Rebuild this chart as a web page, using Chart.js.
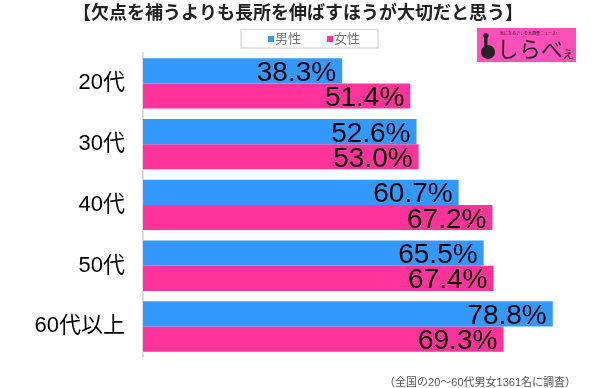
<!DOCTYPE html>
<html>
<head>
<meta charset="utf-8">
<script src="https://cdn.jsdelivr.net/npm/chart.js@4"></script>
<style>
  html, body { margin: 0; padding: 0; background: #fff; }
  #wrap { width: 600px; height: 388px; position: relative; }
</style>
</head>
<body>
<div id="wrap"><canvas id="myChart" width="600" height="388"></canvas></div>
<script>
// datos del gráfico
var categorias = ["20代", "30代", "40代", "50代", "60代以上"];
var hombres = [38.3, 52.6, 60.7, 65.5, 78.8];
var mujeres = [51.4, 53.0, 67.2, 67.4, 69.3];
var nombresSeries = ["男性", "女性"];
var titulo = "【欠点を補うよりも長所を伸ばすほうが大切だと思う】";
var nota = "（全国の20～60代男女1361名に調査）";

var azul = "#3399ff";
var rosa = "#ff3399";
var fuente = "'Liberation Sans', 'Noto Sans CJK JP', sans-serif";

// Plugin para los textos: título, leyenda, logo, nota y etiquetas de valores
var extras = {
    id: "extras",
    afterDatasetsDraw: function (chart) {
        var ctx = chart.ctx;
        ctx.save();
        ctx.fillStyle = "#000";
        ctx.font = "28px " + fuente;
        ctx.textAlign = "right";
        ctx.textBaseline = "alphabetic";
        chart.data.datasets.forEach(function (ds, i) {
            chart.getDatasetMeta(i).data.forEach(function (bar, j) {
                ctx.fillText(ds.data[j].toFixed(1) + "%", bar.x - 6, bar.y + 10);
            });
        });
        ctx.restore();
    },
    afterDraw: function (chart) {
        var ctx = chart.ctx;
        ctx.save();

        // título
        ctx.fillStyle = "#222";
        ctx.font = "bold 18px " + fuente;
        ctx.textAlign = "center";
        ctx.textBaseline = "middle";
        ctx.fillText(titulo, 298, 14);

        // leyenda con borde
        ctx.strokeStyle = "#dddddd";
        ctx.lineWidth = 1.5;
        ctx.strokeRect(241, 29.5, 137, 18.5);
        ctx.font = "13px " + fuente;
        ctx.textAlign = "left";
        var colores = [azul, rosa];
        var xs = [268, 327];
        nombresSeries.forEach(function (n, i) {
            ctx.fillStyle = colores[i];
            ctx.fillRect(xs[i], 36, 6, 6);
            ctx.fillStyle = "#777";
            ctx.fillText(n, xs[i] + 7, 39.5);
        });

        // logo
        ctx.fillStyle = "#ff4fb8";
        ctx.fillRect(477, 28, 99, 34);
        ctx.fillStyle = "#222";
        ctx.font = "4px " + fuente;
        ctx.fillText("気になるアレを大調査ニュース!", 500, 34);
        ctx.beginPath();
        ctx.arc(488, 52, 7, 0, Math.PI * 2);
        ctx.fill();
        ctx.fillRect(484, 37, 3.5, 12);
        ctx.beginPath();
        ctx.arc(486, 35.5, 2.6, 0, Math.PI * 2);
        ctx.fill();
        ctx.font = "22px 'Noto Sans CJK JP', sans-serif";
        ctx.fillText("しらべ", 497, 49);
        ctx.font = "14px 'Noto Sans CJK JP', sans-serif";
        ctx.fillText("ぇ", 561, 53);

        // nota al pie
        ctx.fillStyle = "#555";
        ctx.font = "11px " + fuente;
        ctx.textAlign = "right";
        ctx.fillText(nota, 576, 383);

        ctx.restore();
    }
};

var ctx = document.getElementById("myChart").getContext("2d");
var myChart = new Chart(ctx, {
    type: "bar",
    data: {
        labels: categorias,
        datasets: [
            { label: nombresSeries[0], data: hombres, backgroundColor: azul },
            { label: nombresSeries[1], data: mujeres, backgroundColor: rosa }
        ]
    },
    options: {
        indexAxis: "y",
        responsive: false,
        animation: false,
        categoryPercentage: 0.83,
        barPercentage: 1.0,
        layout: { padding: { top: 53, bottom: 11, left: 0, right: 15 } },
        plugins: {
            legend: { display: false },
            tooltip: { enabled: false }
        },
        scales: {
            x: {
                display: false,
                min: 0,
                max: 85
            },
            y: {
                grid: { display: false, drawTicks: false },
                border: { display: true, color: "#dddddd", width: 2 },
                ticks: {
                    color: "#000",
                    padding: 18,
                    font: { size: 22, family: fuente }
                },
                afterFit: function (scale) {
                    scale.width = 143;
                }
            }
        }
    },
    plugins: [extras]
});
</script>
</body>
</html>
